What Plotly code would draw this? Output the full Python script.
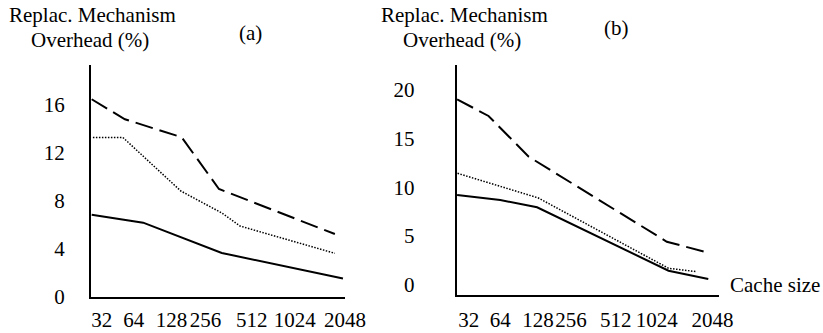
import plotly.graph_objects as go

# ---- data (x = log2 of cache size) ----
cache_labels = ["32", "64", "128", "256", "512", "1024", "2048"]

# panel (a)
a_dash_x = [5.0, 5.82, 7.22, 8.14, 11.0]
a_dash_y = [16.48, 14.81, 13.31, 8.99, 5.23]
a_dot_x = [5.03, 5.77, 7.20, 8.21, 8.66, 11.0]
a_dot_y = [13.29, 13.29, 8.82, 6.99, 5.90, 3.62]
a_solid_x = [5.0, 6.27, 8.21, 11.2]
a_solid_y = [6.84, 6.18, 3.65, 1.52]

# panel (b)
b_dash_x = [5.0, 5.75, 6.71, 10.01, 11.0]
b_dash_y = [19.05, 17.34, 13.15, 4.40, 3.27]
b_dot_x = [5.01, 6.94, 10.05, 10.72]
b_dot_y = [11.44, 8.90, 1.67, 1.32]
b_solid_x = [5.0, 6.03, 6.91, 10.05, 11.0]
b_solid_y = [9.21, 8.69, 7.94, 1.42, 0.57]

a_yticks = [0, 4, 8, 12, 16]
b_yticks = [0, 5, 10, 15, 20]

# ---- figure ----
W, H = 823, 333
FONT = "Liberation Serif"
fig = go.Figure()

dash_style = dict(color="black", width=2, dash="18px,7px")
dot_style = dict(color="black", width=1.5, dash="1.5px,1.5px")
solid_style = dict(color="black", width=2)

for xs, ys, st, ax in [
    (a_dash_x, a_dash_y, dash_style, ("x", "y")),
    (a_dot_x, a_dot_y, dot_style, ("x", "y")),
    (a_solid_x, a_solid_y, solid_style, ("x", "y")),
    (b_dash_x, b_dash_y, dash_style, ("x2", "y2")),
    (b_dot_x, b_dot_y, dot_style, ("x2", "y2")),
    (b_solid_x, b_solid_y, solid_style, ("x2", "y2")),
]:
    fig.add_trace(go.Scatter(x=xs, y=ys, mode="lines", line=st,
                             xaxis=ax[0], yaxis=ax[1], showlegend=False,
                             hoverinfo="skip", cliponaxis=False))

def px_x(p):
    return p / W

def px_y(p):
    return 1 - p / H

a_tick_pos = [5.25, 6.04, 6.97, 7.81, 8.95, 10.01, 11.25]
b_tick_pos = [5.28, 6.03, 6.93, 7.72, 8.79, 9.77, 11.10]

common_axis = dict(showline=True, linecolor="black", linewidth=2, showgrid=False,
                   zeroline=False, ticks="", automargin=False,
                   tickfont=dict(family=FONT, size=21, color="black"),
                   fixedrange=True)

fig.update_layout(
    width=W, height=H,
    margin=dict(l=0, r=0, t=0, b=0),
    paper_bgcolor="white", plot_bgcolor="white",
    font=dict(family=FONT, size=21, color="black"),
    xaxis=dict(domain=[px_x(91), px_x(345)], range=[4.983, 11.25],
               tickvals=a_tick_pos, ticktext=cache_labels, anchor="y", tickangle=0,
               ticklabelstandoff=3, **common_axis),
    yaxis=dict(domain=[px_y(296.7), px_y(65)], range=[0, 19.34],
               tickvals=a_yticks, anchor="x", ticklabelstandoff=20, **common_axis),
    xaxis2=dict(domain=[px_x(456.7), px_x(719)], range=[4.99, 11.256],
                tickvals=b_tick_pos, ticktext=cache_labels, anchor="y2", tickangle=0,
                ticklabelstandoff=5, **common_axis),
    yaxis2=dict(domain=[px_y(295), px_y(65)], range=[-1.08, 22.58],
                tickvals=b_yticks, anchor="x2", ticklabelstandoff=36, **common_axis),
)

def ann(text, x, y, xanchor="center"):
    fig.add_annotation(text=text, x=px_x(x), y=px_y(y), xref="paper", yref="paper",
                       xanchor=xanchor, yanchor="middle", showarrow=False,
                       font=dict(family=FONT, size=21, color="black"))

ann("Replac. Mechanism", 92.5, 15)
ann("Overhead (%)", 90, 40)
ann("(a)", 250, 33)
ann("Replac. Mechanism", 464, 15)
ann("Overhead (%)", 461.5, 40)
ann("(b)", 616.7, 28.3)
ann("Cache size", 728, 285, xanchor="left")

fig.write_html("out.html")
